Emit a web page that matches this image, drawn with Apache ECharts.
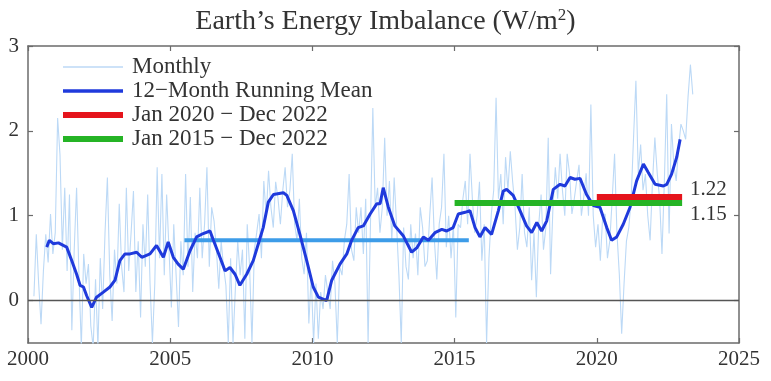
<!DOCTYPE html>
<html>
<head>
<meta charset="utf-8">
<script src="https://cdn.jsdelivr.net/npm/echarts@6/dist/echarts.min.js"></script>
<style>html,body{margin:0;padding:0;background:#fff;}#c{width:771px;height:381px;}</style>
</head>
<body>
<div id="c"></div>
<script>
// ---- data ----
const monthlyStart = [2000, 3]; // first month: March 2000
const monthly = [
  // 2000 (Mar-Dec)
  0.05, 0.78, 0.20, -0.28, 0.35, 0.78, 0.45, 1.02, 0.55, 0.80,
  // 2001
  2.15, 1.72, 0.60, 1.33, 0.35, 1.25, -0.35, 0.60, 1.33, 0.30, -0.55, 0.55,
  // 2002
  0.20, 0.43, -0.30, -0.55, 0.25, -0.55, 0.50, -0.10, 0.80, 1.45, 0.30, -0.24,
  // 2003
  0.60, 0.20, 1.14, 0.40, 0.10, 1.33, 0.35, 0.80, 1.29, 0.10, 0.70, -0.20,
  // 2004
  0.90, 0.40, 1.25, 0.20, -0.50, 0.20, 1.57, 0.50, 1.49, 0.30, 1.25, 0.60,
  // 2005
  -0.08, 0.90, 0.30, -0.31, 0.70, 0.30, 1.49, 0.40, 1.22, 0.10, 0.80, 0.50,
  // 2006
  1.33, 0.50, 0.90, 1.57, 0.40, 1.10, 0.94, 0.60, 0.14, 0.70, 0.40, 0.18,
  // 2007
  -0.50, 0.50, -0.50, 0.14, 0.70, 0.30, 0.60, -0.45, 0.90, 0.40, -0.50, 0.60,
  // 2008
  0.80, 1.02, 0.50, 1.41, 1.00, 1.53, 1.10, 0.86, 1.40, 1.20, 0.90, 1.30,
  // 2009
  1.57, 1.10, 1.30, 1.73, 0.90, 0.71, 1.20, 0.50, 0.31, 0.80, -0.27, 0.30,
  // 2010
  -0.50, 0.20, -0.45, 0.10, -0.10, 0.30, 0.10, -0.10, 0.47, 0.20, -0.50, 0.40,
  // 2011
  0.30, 0.71, 0.90, 1.49, 0.60, 0.47, 1.10, 0.80, 1.10, 0.55, 1.20, -0.50,
  // 2012
  0.90, 2.27, 1.10, 1.33, 0.80, 1.10, 1.92, 1.00, 1.41, 0.70, 1.45, 0.90,
  // 2013
  0.30, -0.50, 0.86, 0.40, 0.25, 0.90, 0.50, 0.79, 0.30, 1.10, 0.86, 0.40,
  // 2014
  0.47, 1.00, 1.45, 0.70, 0.25, 0.90, 1.10, 1.73, 0.63, 1.00, 0.50, 0.90,
  // 2015
  -0.20, 0.90, 0.86, 1.20, 1.41, 0.90, 1.73, 1.20, 0.80, 1.00, 1.40, 0.47,
  // 2016
  0.90, -0.50, 0.50, 1.02, 1.30, 2.39, 1.20, 1.49, 0.90, 1.69, 1.30, 1.76,
  // 2017
  1.40, 1.10, 0.60, 0.86, 1.49, 0.80, 0.63, 1.10, 0.24, 0.80, 0.04, 0.90,
  // 2018
  1.25, 0.60, 0.86, 1.92, 0.31, 1.10, 1.57, 1.20, 1.73, 1.30, 1.00, 1.73,
  // 2019
  1.50, 1.02, 1.20, 1.41, 1.60, 1.00, 1.22, 1.50, 1.00, 2.31, 1.00, 0.63,
  // 2020
  0.90, 0.47, 1.00, 1.02, 0.50, 0.71, 1.20, 1.73, 0.80, 0.31, -0.39, 0.20,
  // 2021
  0.70, 0.86, 1.20, 1.92, 2.59, 1.50, 1.84, 1.30, 1.49, 1.00, 0.71, 1.40,
  // 2022
  1.92, 1.50, 1.20, 0.55, 1.40, 2.43, 0.79, 2.08, 1.60, 1.41, 1.80, 2.08,
  // 2023 (Jan-May)
  2.00, 1.90, 2.40, 2.78, 2.43
];
const runningMean = [
  [2000.66,0.63],[2000.75,0.71],[2000.89,0.67],[2001.07,0.68],[2001.24,0.65],[2001.36,0.63],
  [2001.54,0.47],[2001.71,0.31],[2001.83,0.18],[2001.95,0.16],[2002.06,0.06],[2002.24,-0.08],
  [2002.41,0.04],[2002.65,0.10],[2002.88,0.16],[2003.06,0.24],[2003.23,0.47],[2003.41,0.55],
  [2003.59,0.55],[2003.82,0.57],[2004.00,0.51],[2004.29,0.55],[2004.52,0.65],[2004.76,0.51],
  [2004.93,0.69],[2005.11,0.51],[2005.28,0.43],[2005.46,0.37],[2005.70,0.59],[2005.93,0.75],
  [2006.16,0.79],[2006.40,0.82],[2006.52,0.71],[2006.75,0.51],[2006.93,0.35],[2007.10,0.39],
  [2007.28,0.31],[2007.45,0.18],[2007.69,0.31],[2007.92,0.47],[2008.10,0.67],[2008.27,0.86],
  [2008.45,1.16],[2008.63,1.25],[2008.98,1.27],[2009.10,1.24],[2009.33,1.06],[2009.56,0.78],
  [2009.80,0.47],[2010.03,0.16],[2010.21,0.04],[2010.50,0.00],[2010.68,0.24],[2010.97,0.43],
  [2011.21,0.55],[2011.38,0.71],[2011.61,0.86],[2011.79,0.88],[2012.03,1.02],[2012.26,1.14],
  [2012.38,1.14],[2012.49,1.33],[2012.67,1.10],[2012.90,0.88],[2013.20,0.76],[2013.49,0.57],
  [2013.67,0.62],[2013.90,0.75],[2014.08,0.71],[2014.31,0.80],[2014.55,0.84],[2014.72,0.82],
  [2014.95,0.86],[2015.13,1.02],[2015.37,1.04],[2015.54,1.06],[2015.72,0.86],[2015.89,0.75],
  [2016.07,0.86],[2016.30,0.78],[2016.54,1.06],[2016.71,1.29],[2016.83,1.31],[2017.06,1.24],
  [2017.30,1.06],[2017.53,0.88],[2017.71,0.80],[2017.89,0.92],[2018.06,0.82],[2018.24,0.94],
  [2018.47,1.31],[2018.71,1.37],[2018.88,1.35],[2019.06,1.45],[2019.23,1.43],[2019.41,1.44],
  [2019.64,1.25],[2019.88,1.12],[2020.11,1.10],[2020.35,0.86],[2020.52,0.71],[2020.70,0.75],
  [2020.93,0.90],[2021.17,1.10],[2021.40,1.41],[2021.64,1.61],[2021.81,1.51],[2022.05,1.37],
  [2022.34,1.35],[2022.46,1.37],[2022.63,1.49],[2022.81,1.69],[2022.93,1.90]
];
const period2005to2015 = [2005.5, 2015.5, 0.71];   // [start, end, mean]
const period2020to2022 = [2020.0, 2023.0, 1.22];
const period2015to2022 = [2015.0, 2023.0, 1.15];
const legendNames = ['Monthly', '12\u2212Month Running Mean', 'Jan 2020 \u2212 Dec 2022', 'Jan 2015 \u2212 Dec 2022'];
const xTicks = [2000, 2005, 2010, 2015, 2020, 2025];
const yTicks = [0, 1, 2, 3];

// ---- build ----
const monthlyPts = monthly.map((v, i) => {
  const m = monthlyStart[1] - 1 + i;
  return [monthlyStart[0] + (m + 0.5) / 12, v];
});
const seg = p => [[p[0], p[2]], [p[1], p[2]]];

const FONT = '"Liberation Serif", "Times New Roman", serif';
const AX = '#6b6b6b';
const TXT = '#333';

const chart = echarts.init(document.getElementById('c'), null, {renderer: 'canvas'});
const baseX = {
  type: 'value', min: xTicks[0], max: xTicks[xTicks.length - 1], interval: 5,
  axisLine: {show: true, onZero: false, lineStyle: {color: AX, width: 1.5}},
  axisTick: {show: true, inside: true, length: 5, lineStyle: {color: AX, width: 1.2}},
  splitLine: {show: false}
};
const baseY = {
  type: 'value', min: -0.5, max: 3,
  axisLine: {show: true, onZero: false, lineStyle: {color: AX, width: 1.5}},
  axisTick: {show: true, inside: true, length: 5, customValues: yTicks, lineStyle: {color: AX, width: 1.2}},
  splitLine: {show: false}
};
const path = t => 'path://M0,0H60V' + t + 'H0Z';

chart.setOption({
  animation: false,
  backgroundColor: '#fff',
  title: {
    text: 'Earth\u2019s Energy Imbalance (W/m{sup|2})',
    left: 'center', top: 2,
    textStyle: {
      fontFamily: FONT, fontSize: 28, fontWeight: 'normal', color: TXT,
      rich: {sup: {fontFamily: FONT, fontSize: 17, color: TXT, verticalAlign: 'top', padding: [0, 0, 12, 0]}}
    }
  },
  grid: {left: 28, right: 32, top: 46, bottom: 38, containLabel: false},
  legend: {
    orient: 'vertical', left: 63, top: 55, padding: 0,
    itemWidth: 60, itemHeight: 14, itemGap: 0,
    textStyle: {fontFamily: FONT, fontSize: 23, lineHeight: 24, color: TXT, padding: [0, 0, 0, 4]},
    data: [
      {name: legendNames[0], icon: path(1.5)},
      {name: legendNames[1], icon: path(3.5)},
      {name: legendNames[2], icon: path(6)},
      {name: legendNames[3], icon: path(6)}
    ]
  },
  xAxis: [
    Object.assign({}, baseX, {
      position: 'bottom',
      axisLabel: {show: true, customValues: xTicks, formatter: v => String(v), margin: 6, fontFamily: FONT, fontSize: 21, color: TXT}
    }),
    Object.assign({}, baseX, {position: 'top', axisLabel: {show: false}})
  ],
  yAxis: [
    Object.assign({}, baseY, {
      position: 'left',
      axisLabel: {show: true, customValues: yTicks, margin: 9, fontFamily: FONT, fontSize: 21, color: TXT}
    }),
    Object.assign({}, baseY, {position: 'right', axisLabel: {show: false}})
  ],
  series: [
    {
      name: legendNames[0], type: 'line', data: monthlyPts, showSymbol: false, symbol: 'none',
      color: '#bcd9f6', lineStyle: {color: '#bcd9f6', width: 1.1}, z: 1, clip: true,
      markLine: {
        silent: true, symbol: 'none', label: {show: false},
        lineStyle: {color: '#555', width: 1.3, type: 'solid'},
        data: [{yAxis: 0}]
      }
    },
    {
      name: 'Jan 2005 - Dec 2015', type: 'line', data: seg(period2005to2015), showSymbol: false, symbol: 'none',
      color: '#3d9ce8', lineStyle: {color: '#3d9ce8', width: 4}, z: 2
    },
    {
      name: legendNames[1], type: 'line', data: runningMean, showSymbol: false, symbol: 'none',
      color: '#1f3adc', lineStyle: {color: '#1f3adc', width: 3}, z: 3, clip: true
    },
    {
      name: legendNames[3], type: 'line', data: seg(period2015to2022), showSymbol: false, symbol: 'none',
      color: '#25b425', lineStyle: {color: '#25b425', width: 6}, z: 4,
      endLabel: {show: true, formatter: period2015to2022[2].toFixed(2), fontFamily: FONT, fontSize: 21, color: TXT, distance: 8, offset: [0, 11]}
    },
    {
      name: legendNames[2], type: 'line', data: seg(period2020to2022), showSymbol: false, symbol: 'none',
      color: '#e5141c', lineStyle: {color: '#e5141c', width: 6}, z: 5,
      endLabel: {show: true, formatter: period2020to2022[2].toFixed(2), fontFamily: FONT, fontSize: 21, color: TXT, distance: 8, offset: [0, -8]}
    }
  ]
});
</script>
</body>
</html>
